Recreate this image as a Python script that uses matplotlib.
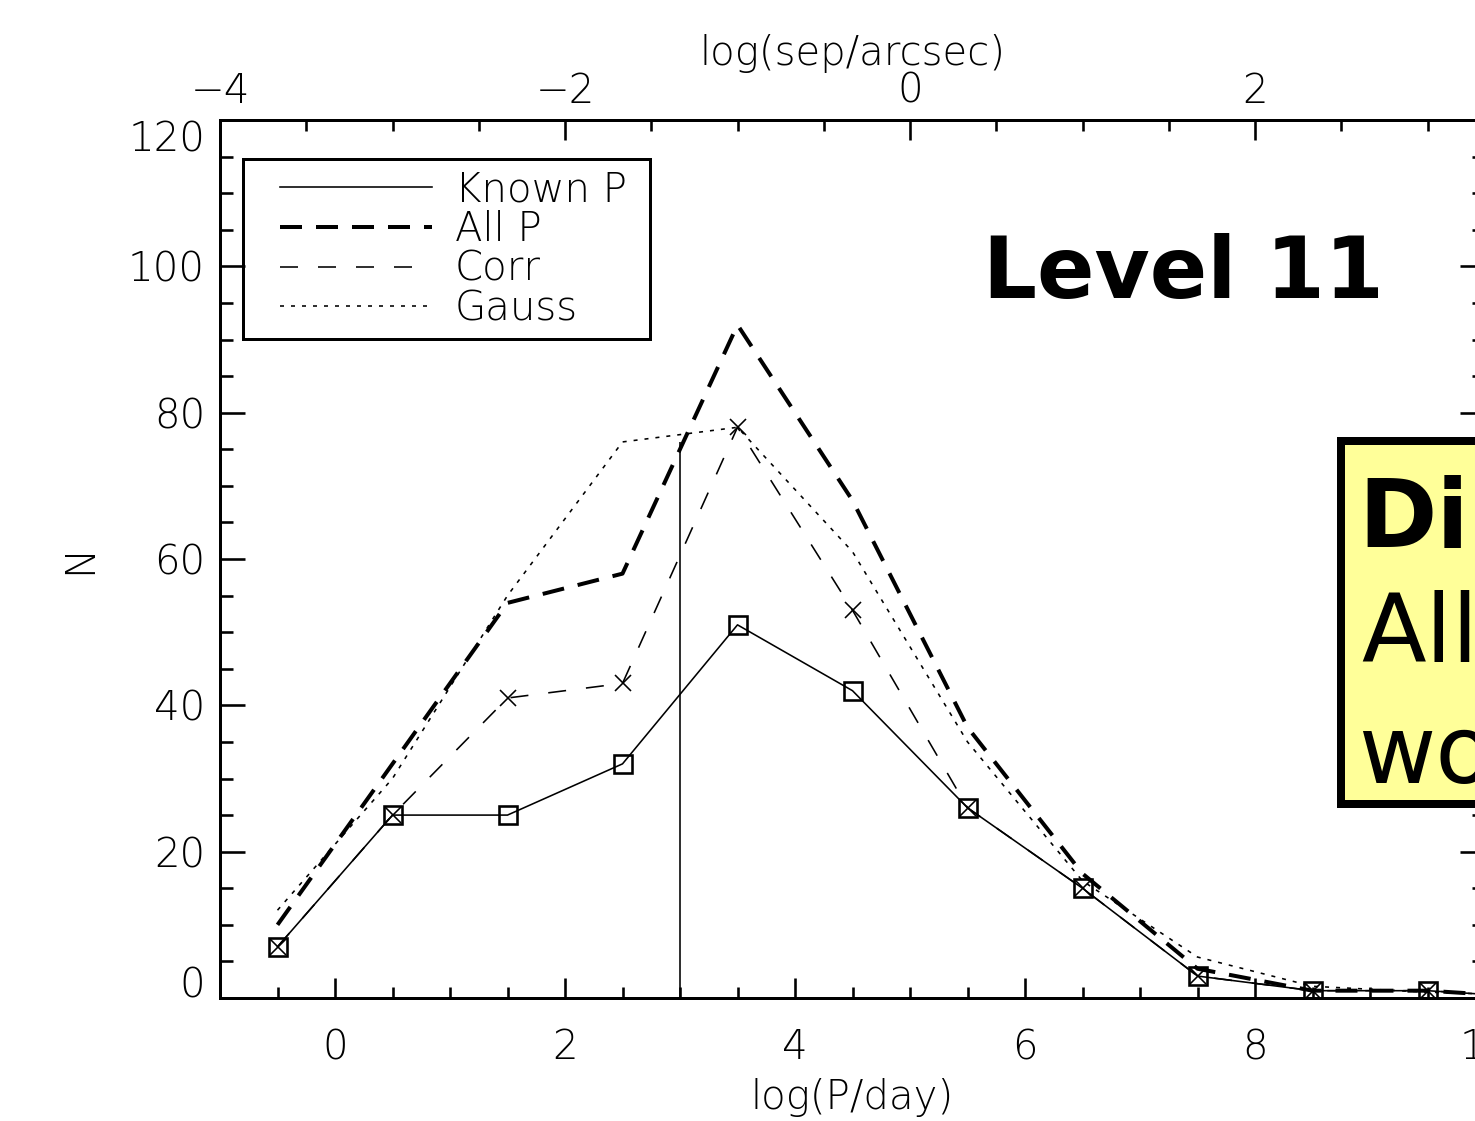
import matplotlib
matplotlib.use('Agg')
import matplotlib.pyplot as plt
from matplotlib.ticker import MultipleLocator, FixedLocator
from matplotlib.patches import Rectangle
from matplotlib import font_manager

W, H, DPI = 1475, 1121, 100

# ---------------- data ----------------
logP = [-0.5, 0.5, 1.5, 2.5, 3.5, 4.5, 5.5, 6.5, 7.5, 8.5, 9.5, 10.5]
known_p = [7, 25, 25, 32, 51, 42, 26, 15, 3, 1, 1, 0]
all_p = [10, 32, 54, 58, 92, 68, 37, 17, 4, 1, 1, 0]
corr = [7, 25, 41, 43, 78, 53, 26, 15, 3, 1, 1, 0]
gauss = [12, 30, 55, 76, 78, 61, 35, 16, 5.6, 1.6, 0.8, 0.3]
legend_labels = ['Known P', 'All P', 'Corr', 'Gauss']
cut_x = 3.0
cut_top = 76
xticks_bottom = [0, 2, 4, 6, 8, 10]
yticks = [0, 20, 40, 60, 80, 100, 120]
top_ticks = [-4, -2, 0, 2]


def px(v):
    return v * 72.0 / DPI


# thin font if available
thin = 'normal'
for f in font_manager.fontManager.ttflist:
    if f.name == 'DejaVu Sans' and 'ExtraLight' in f.fname:
        thin = 200
        break

plt.rcParams['font.family'] = ['DejaVu Sans']
plt.rcParams['font.weight'] = thin
plt.rcParams['axes.labelweight'] = thin
plt.rcParams['lines.scale_dashes'] = False
plt.rcParams['axes.unicode_minus'] = True

FS = 29

fig = plt.figure(figsize=(W / DPI, H / DPI), dpi=DPI)
fig.patch.set_facecolor('white')
ax = fig.add_axes([220 / W, 1 - 998 / H, 1265 / W, 878 / H])
ax.set_xlim(-1, 10)
ax.set_ylim(0, 120)

lw_thin = px(1.6)
h_known, = ax.plot(logP, known_p, color='k', lw=lw_thin, ls='-', label=legend_labels[0])
h_all, = ax.plot(logP, all_p, color='k', lw=px(4), ls=(0, (px(22), px(14))), label=legend_labels[1])
h_corr, = ax.plot(logP, corr, color='k', lw=lw_thin, ls=(0, (px(18), px(20))), label=legend_labels[2])
h_gauss, = ax.plot(logP, gauss, color='k', lw=lw_thin, ls=(0, (px(4), px(7))), label=legend_labels[3])

ax.plot(logP, known_p, ls='none', marker='s', ms=px(18), mfc='none', mec='k', mew=px(2.6))
ax.plot(logP, corr, ls='none', marker='x', ms=px(16), mec='k', mew=px(1.6))

ax.vlines(cut_x, 0, cut_top, color='k', lw=lw_thin)

for s in ax.spines.values():
    s.set_linewidth(px(3))

ax.xaxis.set_major_locator(FixedLocator(xticks_bottom))
ax.xaxis.set_minor_locator(MultipleLocator(0.5))
ax.yaxis.set_major_locator(FixedLocator(yticks))
ax.yaxis.set_minor_locator(MultipleLocator(5))
ax.tick_params(axis='x', which='major', direction='in', length=px(20), width=px(2.6),
               pad=px(30), labelsize=FS, top=False, bottom=True)
ax.tick_params(axis='x', which='minor', direction='in', length=px(11), width=px(2.6), top=False)
ax.tick_params(axis='y', which='major', direction='in', length=px(25), width=px(2.6),
               left=True, right=True, pad=px(15), labelsize=FS)
ax.tick_params(axis='y', which='minor', direction='in', length=px(13), width=px(2.6),
               left=True, right=True)

ax.set_xlabel('log(P/day)', fontsize=FS, labelpad=px(11), fontweight=thin)
ax.set_ylabel('N', fontsize=FS, labelpad=px(29), fontweight=thin)

sec = ax.secondary_xaxis('top', functions=(lambda x: (x - 5) / 1.5, lambda s: s * 1.5 + 5))
sec.xaxis.set_major_locator(FixedLocator(top_ticks))
sec.xaxis.set_minor_locator(MultipleLocator(0.5))
sec.tick_params(which='major', direction='in', length=px(20), width=px(2.6), pad=px(9), labelsize=FS)
sec.tick_params(which='minor', direction='in', length=px(11), width=px(2.6))
sec.set_xlabel('log(sep/arcsec)', fontsize=FS, labelpad=px(7), fontweight=thin)
sec.spines['top'].set_linewidth(px(3))

fsp = FS / 72.0 * DPI
leg = ax.legend(handles=[h_known, h_all, h_corr, h_gauss], loc='upper left',
                bbox_to_anchor=((280 - 220) / 1265, (998 - 170) / 878),
                borderaxespad=0, borderpad=0, frameon=False, fontsize=FS,
                handlelength=152 / fsp, handletextpad=23 / fsp, labelspacing=0.02)
ax.add_patch(Rectangle(((243 - 220) / 1265, (998 - 339) / 878), 407 / 1265, 180 / 878,
                       transform=ax.transAxes, fill=False, edgecolor='k', lw=px(3), zorder=5))

# annotations
fig.text(983 / W, 1 - 298 / H, 'Level 11', fontsize=61, fontweight='bold',
         family='DejaVu Sans', ha='left', va='baseline')
fig.add_artist(Rectangle((1341 / W, 1 - 804 / H), (1800 - 1341) / W, (804 - 441) / H,
                         transform=fig.transFigure, facecolor='#ffff99', edgecolor='k',
                         lw=px(8)))
fig.text(1358 / W, 1 - 547 / H, 'Di', fontsize=68, fontweight='bold', family='DejaVu Sans',
         ha='left', va='baseline')
fig.text(1361 / W, 1 - 662 / H, 'All', fontsize=68, fontweight='normal', family='DejaVu Sans',
         ha='left', va='baseline')
fig.text(1358 / W, 1 - 783 / H, 'wo', fontsize=68, fontweight='normal', family='DejaVu Sans',
         ha='left', va='baseline')

fig.canvas.draw()
ylabs = ax.get_yticklabels()
ylabs[0].set_va('baseline')
ylabs[-1].set_va('top')

fig.savefig('out.png', dpi=DPI)
